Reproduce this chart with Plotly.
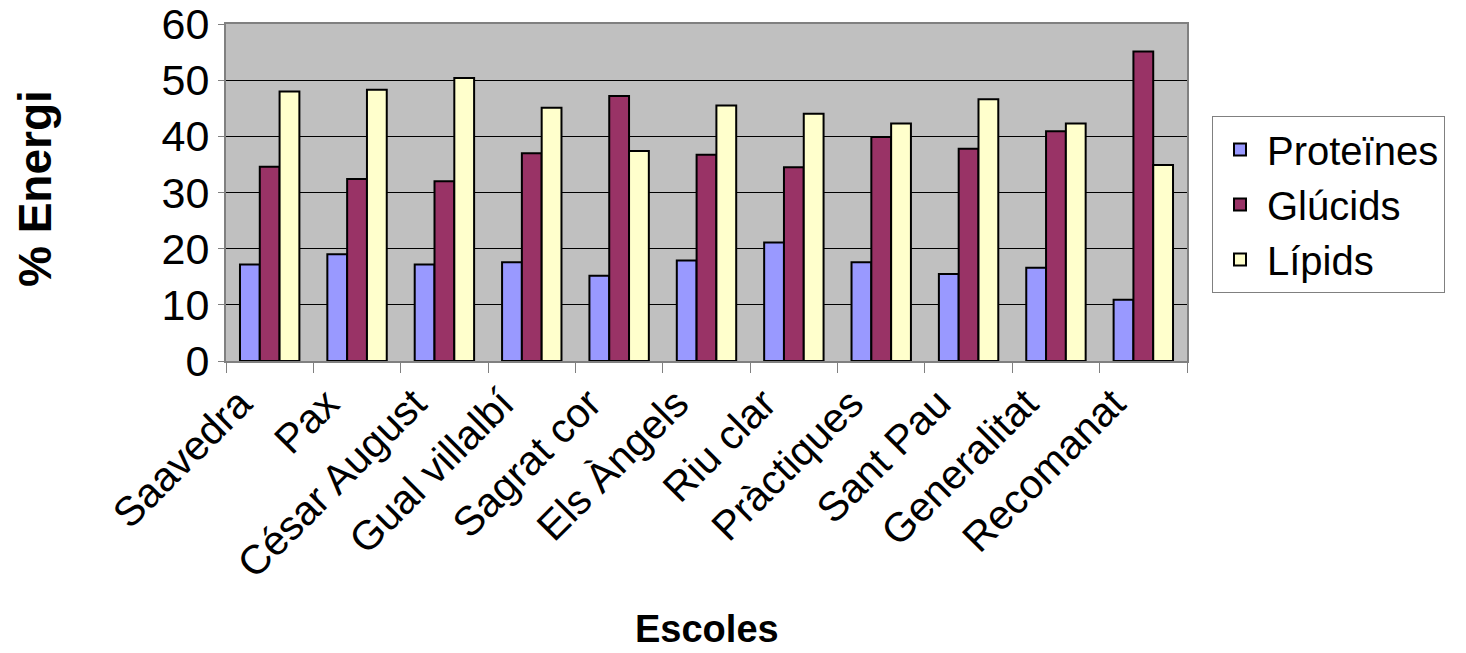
import plotly.graph_objects as go

# School names (x categories)
escoles = ["Saavedra", "Pax", "César August", "Gual villalbí", "Sagrat cor",
           "Els Àngels", "Riu clar", "Pràctiques", "Sant Pau", "Generalitat",
           "Recomanat"]

# Share of energy intake (%) per macronutrient
proteines = [17.2, 19.0, 17.2, 17.6, 15.2, 17.9, 21.1, 17.6, 15.5, 16.6, 10.9]
glucids = [34.6, 32.4, 32.0, 37.0, 47.2, 36.7, 34.5, 39.9, 37.8, 40.9, 55.1]
lipids = [48.0, 48.3, 50.4, 45.1, 37.4, 45.5, 44.0, 42.3, 46.6, 42.3, 34.9]

series = [
    ("Proteïnes", proteines, "#9999FF"),
    ("Glúcids", glucids, "#993366"),
    ("Lípids", lipids, "#FFFFCC"),
]

FONT = "Liberation Sans, Arial, sans-serif"

# plot-area geometry in pixels
L, R, T, B = 226, 279, 24, 292
W, H = 1466, 653
PW, PH = W - L - R, H - T - B

fig = go.Figure()
for name, vals, color in series:
    fig.add_trace(go.Bar(
        name=name, x=escoles, y=vals, legendgroup=name,
        marker=dict(color=color, line=dict(color="black", width=2)),
    ))

fig.update_layout(
    width=W, height=H,
    margin=dict(l=L, r=R, t=T, b=B, autoexpand=False),
    paper_bgcolor="white",
    plot_bgcolor="#C0C0C0",
    barmode="group",
    bargap=0.32,
    bargroupgap=0,
    font=dict(family=FONT, size=40, color="black"),
    showlegend=True,
    legend=dict(
        x=(1212 - L) / PW, y=(H - B - 116) / PH, xanchor="left", yanchor="top",
        bgcolor="white", bordercolor="#808080", borderwidth=1,
        font=dict(size=40), tracegroupgap=0,
        itemwidth=44,
    ),
    xaxis=dict(
        automargin=False,
        tickangle=-45,
        tickson="boundaries",
        ticks="outside", ticklen=10, tickcolor="#808080",
        ticklabelshift=-30,
        showline=True, linecolor="#808080", linewidth=2,
        mirror=True,
        tickfont=dict(size=41),
    ),
    yaxis=dict(
        automargin=False,
        range=[0, 60], dtick=10,
        showgrid=True, gridcolor="black", gridwidth=1,
        ticks="outside", ticklen=6, tickcolor="#808080",
        showline=True, linecolor="#808080", linewidth=2,
        mirror=True,
        zeroline=False,
        tickfont=dict(size=43),
    ),
    annotations=[
        dict(text="<b>Escoles</b>", xref="paper", yref="paper",
             x=(707 - L) / PW, y=(H - B - 652) / PH,
             xanchor="center", yanchor="bottom", showarrow=False,
             font=dict(size=38)),
        dict(text="<b>% Energi</b>", xref="paper", yref="paper",
             x=(35 - L) / PW, y=(H - B - 189) / PH, textangle=-90,
             xanchor="center", yanchor="middle", showarrow=False,
             font=dict(size=46)),
    ],
)

fig.write_html("out.html")
